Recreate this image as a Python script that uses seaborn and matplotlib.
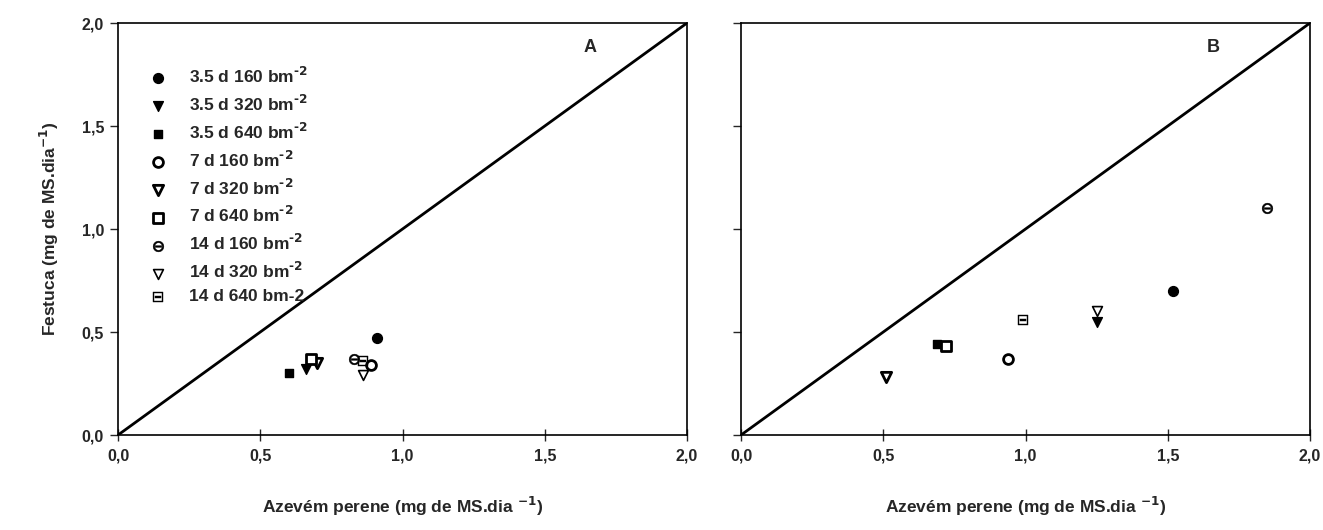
import matplotlib
matplotlib.use("Agg")
import matplotlib.pyplot as plt
import seaborn as sns
from matplotlib.ticker import FuncFormatter

sns.set_theme(style="white")
plt.rcParams['font.family'] = ['Liberation Sans', 'DejaVu Sans']
plt.rcParams['font.weight'] = 'bold'
plt.rcParams['mathtext.default'] = 'bf'

# ---- data ----
labels = ["3.5 d 160 bm$^{\\text{-2}}$", "3.5 d 320 bm$^{\\text{-2}}$", "3.5 d 640 bm$^{\\text{-2}}$",
          "7 d 160 bm$^{\\text{-2}}$", "7 d 320 bm$^{\\text{-2}}$", "7 d 640 bm$^{\\text{-2}}$",
          "14 d 160 bm$^{\\text{-2}}$", "14 d 320 bm$^{\\text{-2}}$", "14 d 640 bm-2"]
# Panel A
a_x = [0.91, 0.66, 0.60, 0.89, 0.70, 0.68, 0.83, 0.86, 0.86]
a_y = [0.47, 0.32, 0.30, 0.34, 0.35, 0.37, 0.37, 0.29, 0.36]
# Panel B
b_x = [1.52, 1.25, 0.69, 0.94, 0.51, 0.72, 1.85, 1.25, 0.99]
b_y = [0.70, 0.55, 0.44, 0.37, 0.28, 0.43, 1.10, 0.60, 0.56]
diag = [0.0, 2.0]
ticks = [0.0, 0.5, 1.0, 1.5, 2.0]

# ---- styles ----
styles = [
    dict(marker='o', color='black', edgecolor='black', s=50, linewidth=1),
    dict(marker='v', color='black', edgecolor='black', s=50, linewidth=1),
    dict(marker='s', color='black', edgecolor='black', s=40, linewidth=1),
    dict(marker='o', color='white', edgecolor='black', s=50, linewidth=2),
    dict(marker='v', color='white', edgecolor='black', s=55, linewidth=2),
    dict(marker='s', color='white', edgecolor='black', s=45, linewidth=2),
    dict(marker='$\\ominus$', color='black', edgecolor='black', s=60, linewidth=0.3),
    dict(marker='v', color='white', edgecolor='black', s=50, linewidth=1.2),
    dict(marker='$\\boxminus$', color='black', edgecolor='black', s=60, linewidth=0.3),
]

fig = plt.figure(figsize=(13.23, 5.30), dpi=100)
axA = fig.add_axes([0.0892, 0.1792, 0.4301, 0.7774])
axB = fig.add_axes([0.5601, 0.1792, 0.4301, 0.7774])

fmt = FuncFormatter(lambda v, p: f"{v:.1f}".replace('.', ','))

for ax, xs, ys, tag in [(axA, a_x, a_y, 'A'), (axB, b_x, b_y, 'B')]:
    ax.plot(diag, diag, color='black', lw=2)
    for i, lab in enumerate(labels):
        sns.scatterplot(x=[xs[i]], y=[ys[i]], ax=ax, label=lab, zorder=3, **styles[i])
    ax.set_xlim(0, 2)
    ax.set_ylim(0, 2)
    ax.set_xticks(ticks)
    ax.set_yticks(ticks)
    ax.xaxis.set_major_formatter(fmt)
    ax.yaxis.set_major_formatter(fmt)
    for sp in ax.spines.values():
        sp.set_color('black')
        sp.set_linewidth(1.2)
    ax.tick_params(axis='x', direction='inout', length=8, width=1, labelsize=11.5, pad=6, bottom=True)
    ax.tick_params(axis='y', direction='out', length=6, width=1, labelsize=11.5, pad=4, left=True)
    ax.set_xlabel("Azevém perene (mg de MS.dia $^{-1}$)", fontsize=12.5, fontweight='bold', labelpad=22)
    ax.text(0.83, 0.94, tag, transform=ax.transAxes, fontsize=13, fontweight='bold', ha='center', va='center')
    if ax.get_legend() is not None:
        ax.get_legend().remove()

axB.tick_params(axis='y', labelleft=False)
axA.set_ylabel("Festuca (mg de MS.dia$^{-1}$)", fontsize=12.5, fontweight='bold', labelpad=15)

h, l = axA.get_legend_handles_labels()
leg = axA.legend(h, l, loc='upper left', bbox_to_anchor=(0.04, 0.913), frameon=False,
                 fontsize=12.5, labelspacing=0.45, handletextpad=1.2, handlelength=1.2,
                 borderaxespad=0)
for t in leg.get_texts():
    t.set_fontweight('bold')

fig.savefig("out.png", dpi=100)
